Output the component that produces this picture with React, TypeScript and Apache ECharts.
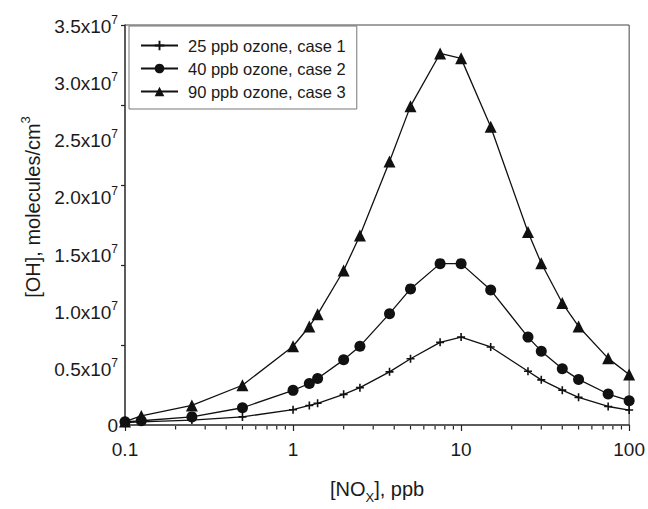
import React, { useEffect, useRef } from "react";
import * as echarts from "echarts";

const noxPpb = [0.1, 0.125, 0.25, 0.5, 1, 1.25, 1.4, 2, 2.5, 3.75, 5, 7.5, 10, 15, 25, 30, 40, 50, 75, 100];
// [OH] in units of 1e7 molecules/cm3
const ohCase1 = [0.02, 0.028, 0.043, 0.071, 0.134, 0.171, 0.19, 0.268, 0.327, 0.465, 0.58, 0.723, 0.769, 0.683, 0.47, 0.395, 0.305, 0.242, 0.162, 0.131];
const ohCase2 = [0.028, 0.037, 0.071, 0.151, 0.303, 0.363, 0.407, 0.57, 0.69, 0.974, 1.191, 1.412, 1.412, 1.181, 0.769, 0.646, 0.493, 0.399, 0.271, 0.213];
const ohCase3 = [0.03, 0.079, 0.171, 0.348, 0.689, 0.862, 0.968, 1.352, 1.659, 2.306, 2.79, 3.251, 3.208, 2.61, 1.688, 1.415, 1.067, 0.862, 0.583, 0.441];
const seriesNames = ["25 ppb ozone, case 1", "40 ppb ozone, case 2", "90 ppb ozone, case 3"];
const minorTickX = [0.2, 0.3, 0.4, 0.5, 0.6, 0.7, 0.8, 0.9, 2, 3, 4, 5, 6, 7, 8, 9, 20, 30, 40, 50, 60, 70, 80, 90];

const FONT = "Liberation Sans, Arial, sans-serif";
const INK = "#1a1a1a";
const PLUS = "path://M4,0h2v4h4v2h-4v4h-2v-4h-4v-2h4z";

export default function App() {
  const ref = useRef<HTMLDivElement>(null);
  useEffect(() => {
    if (!ref.current) return;
    const chart = echarts.init(ref.current, null, { renderer: "svg" });
    const mk = (vals: number[]) => noxPpb.map((x, i) => [x, vals[i]]);
    const lineCommon = {
      type: "line",
      lineStyle: { color: "#111", width: 1.3 },
      itemStyle: { color: "#111" },
      symbolKeepAspect: true,
    };
    chart.setOption({
      animation: false,
      backgroundColor: "#fff",
      textStyle: { fontFamily: FONT, color: INK },
      grid: {
        left: 125,
        right: 16,
        top: 25,
        bottom: 74,
        show: true,
        borderColor: "#444",
        borderWidth: 1,
      },
      legend: {
        data: seriesNames,
        orient: "vertical",
        left: 129,
        top: 26,
        padding: [11, 11, 9, 11],
        itemWidth: 37,
        itemHeight: 12,
        itemGap: 6,
        borderColor: "#777",
        borderWidth: 1,
        backgroundColor: "#fff",
        textStyle: { fontSize: 16.5, fontFamily: FONT, color: INK, padding: [0, 0, 0, 5] },
      },
      xAxis: {
        type: "log",
        logBase: 10,
        min: 0.1,
        max: 100,
        name: "{a|[NO}{sub|X}{a|], ppb}",
        nameLocation: "middle",
        nameGap: 54,
        nameTextStyle: {
          rich: {
            a: { fontSize: 20, fontFamily: FONT, color: INK, verticalAlign: "bottom", padding: [0, 0, 5, 0] },
            sub: { fontSize: 13, fontFamily: FONT, color: INK, verticalAlign: "bottom" },
          },
        },
        axisLine: { show: true, lineStyle: { color: "#444", width: 1.5 } },
        axisTick: { show: true, inside: false, length: 6, lineStyle: { color: "#222", width: 1.2 } },
        axisLabel: {
          margin: 15,
          fontSize: 19,
          fontFamily: FONT,
          color: INK,
          formatter: (v: number) => String(+v.toPrecision(6)),
        },
        splitLine: { show: false },
      },
      yAxis: [
        {
          type: "value",
          min: 0,
          max: 3.5,
          interval: 0.5,
          name: "{a|[OH], molecules/cm}{sup|3}",
          nameLocation: "middle",
          nameGap: 80,
          nameRotate: 90,
          nameTextStyle: {
            padding: [0, 0, 0, 36],
            rich: {
              a: { fontSize: 20, fontFamily: FONT, color: INK, verticalAlign: "bottom" },
              sup: { fontSize: 13, fontFamily: FONT, color: INK, verticalAlign: "bottom", padding: [0, 0, 11, 0] },
            },
          },
          axisLine: { show: true, lineStyle: { color: "#444", width: 1.5 } },
          axisTick: { show: false },
          axisLabel: {
            margin: 7,
            formatter: (v: number) => (v === 0 ? "{a|0}" : `{a|${v.toFixed(1)}x10}{sup|7}`),
            rich: {
              a: { fontSize: 19, fontFamily: FONT, color: INK, verticalAlign: "bottom" },
              sup: { fontSize: 12, fontFamily: FONT, color: INK, verticalAlign: "bottom", padding: [0, 0, 10, 0] },
            },
          },
          splitLine: { show: false },
        },
        {
          type: "value",
          min: 0,
          max: 3.5,
          interval: 0.7,
          position: "left",
          axisLine: { show: false },
          axisTick: { show: true, inside: false, length: 4, lineStyle: { color: "#222", width: 1.2 } },
          axisLabel: { show: false },
          splitLine: { show: false },
        },
      ],
      series: [
        { ...lineCommon, name: seriesNames[0], data: mk(ohCase1), symbol: PLUS, symbolSize: 8, z: 3 },
        { ...lineCommon, name: seriesNames[1], data: mk(ohCase2), symbol: "circle", symbolSize: 11, z: 4 },
        { ...lineCommon, name: seriesNames[2], data: mk(ohCase3), symbol: "triangle", symbolSize: 12, z: 5 },
        {
          type: "custom",
          name: "minorTicks",
          silent: true,
          clip: false,
          z: 10,
          data: minorTickX.map((x) => [x, 0]),
          encode: { x: 0, y: 1 },
          renderItem: (_params: any, api: any) => {
            const p = api.coord([api.value(0), api.value(1)]);
            return {
              type: "line",
              shape: { x1: p[0], y1: p[1] + 1, x2: p[0], y2: p[1] + 4.5 },
              style: { stroke: "#222", lineWidth: 1.2 },
            };
          },
        },
      ],
    });
    return () => chart.dispose();
  }, []);
  return (
    <div
      ref={ref}
      style={{ position: "fixed", left: 0, top: 0, width: 648, height: 509 }}
    />
  );
}
